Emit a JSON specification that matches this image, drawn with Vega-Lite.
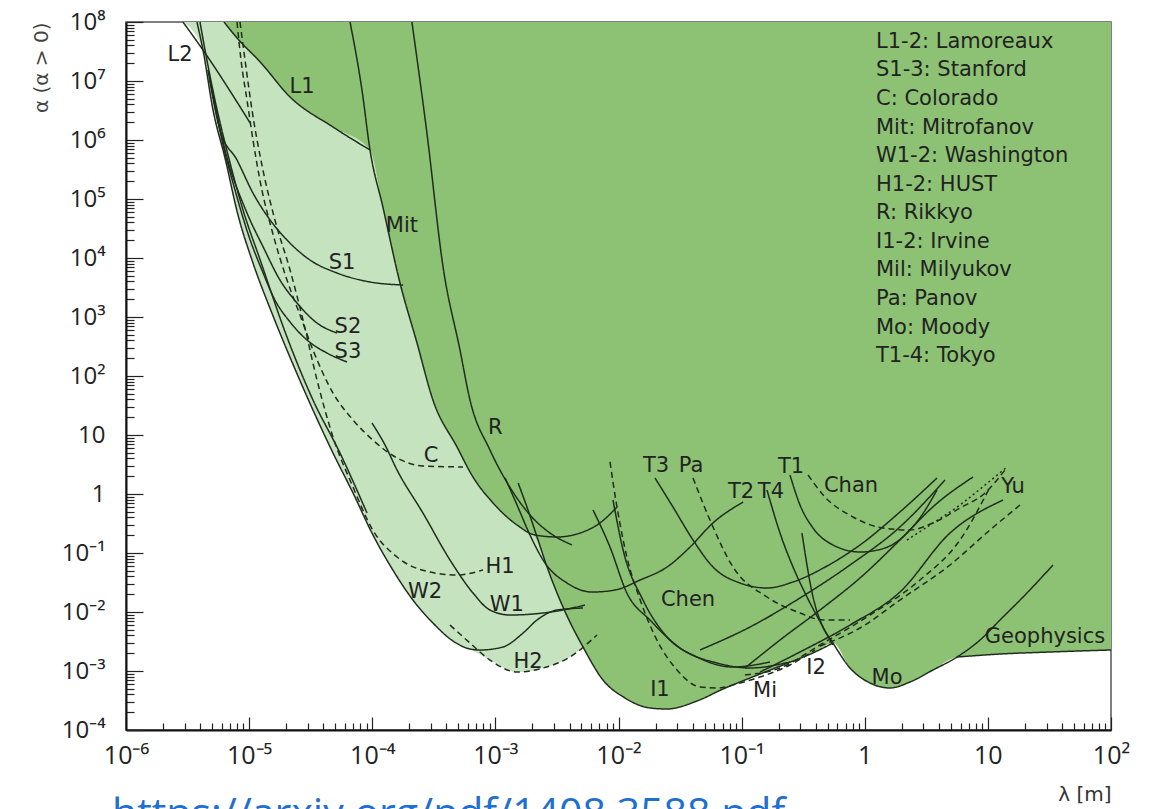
{
  "$schema": "https://vega.github.io/schema/vega-lite/v6.json",
  "width": 985,
  "height": 708,
  "autosize": {"type": "none"},
  "padding": {"left": 126, "top": 22, "right": 41, "bottom": 79},
  "background": "white",
  "config": {"view": {"stroke": "#555", "strokeWidth": 1.5}, "font": "DejaVu Sans"},
  "title": {"text": "https://arxiv.org/pdf/1408.3588.pdf", "orient": "bottom", "anchor": "start", "frame": "group", "fontSize": 41, "font": "Open Sans", "fontWeight": "normal", "color": "#1f6fd0", "offset": -9, "dx": -14},
  "datasets": {
    "light": [
      {"x": 2.90e-6, "y": 1e8}, {"x": 4.22e-6, "y": 3.35e7}, {"x": 5.09e-6, "y": 3.23e6}, {"x": 6.37e-6, "y": 4.95e5}, {"x": 8.12e-6, "y": 5.36e4}, {"x": 1.075e-5, "y": 8230}, {"x": 1.53e-5, "y": 1169}, {"x": 2.23e-5, "y": 172.7}, {"x": 3.30e-5, "y": 26.5}, {"x": 4.80e-5, "y": 4.95}, {"x": 6.98e-5, "y": 1.04}, {"x": 9.95e-5, "y": 0.218}, {"x": 1.47e-4, "y": 0.0515}, {"x": 2.14e-4, "y": 0.01596}, {"x": 3.11e-4, "y": 6.52e-3}, {"x": 4.53e-4, "y": 3.22e-3}, {"x": 6.22e-4, "y": 2.36e-3}, {"x": 9.04e-4, "y": 1.535e-3}, {"x": 1.50e-3, "y": 9.62e-4}, {"x": 2.44e-3, "y": 1.125e-3}, {"x": 4.04e-3, "y": 1.726e-3}, {"x": 5.34e-3, "y": 2.76e-3}
    ],
    "dark": [
      {"x": 6.25e-6, "y": 1e8}, {"x": 7.97e-6, "y": 5.36e7}, {"x": 1.23e-5, "y": 2.10e7}, {"x": 2.15e-5, "y": 5.36e6}, {"x": 4.80e-5, "y": 1.66e6}, {"x": 9.59e-5, "y": 6.77e5}, {"x": 1.22e-4, "y": 7.32e4}, {"x": 1.68e-4, "y": 3770}, {"x": 2.31e-4, "y": 362}, {"x": 3.11e-4, "y": 39.2}, {"x": 4.88e-4, "y": 6.26}, {"x": 6.58e-4, "y": 1.94}, {"x": 9.57e-4, "y": 0.704}, {"x": 1.50e-3, "y": 0.298}, {"x": 2.10e-3, "y": 0.187}, {"x": 2.63e-3, "y": 0.0579}, {"x": 3.54e-3, "y": 0.01215}, {"x": 5.15e-3, "y": 2.55e-3}, {"x": 7.48e-3, "y": 7.04e-4}, {"x": 1.129e-2, "y": 3.49e-4}, {"x": 1.80e-2, "y": 2.36e-4}, {"x": 2.48e-2, "y": 2.27e-4}, {"x": 4.34e-2, "y": 3.10e-4}, {"x": 7.06e-2, "y": 4.95e-4}, {"x": 0.117, "y": 7.61e-4}, {"x": 0.217, "y": 1.264e-3}, {"x": 0.410, "y": 2.18e-3}, {"x": 0.552, "y": 2.98e-3}, {"x": 0.759, "y": 1.125e-3}, {"x": 1.103, "y": 6.26e-4}, {"x": 1.603, "y": 5.15e-4}, {"x": 2.331, "y": 6.51e-4}, {"x": 3.584, "y": 1.04e-3}, {"x": 5.614, "y": 1.726e-3}, {"x": 12.55, "y": 1.94e-3}, {"x": 31.95, "y": 2.10e-3}, {"x": 100, "y": 2.27e-3}
    ],
    "lines": [
      {"s": "L1", "d": "solid", "x": 6.25e-6, "y": 1e8}, {"s": "L1", "d": "solid", "x": 7.97e-6, "y": 5.36e7}, {"s": "L1", "d": "solid", "x": 1.23e-5, "y": 2.10e7}, {"s": "L1", "d": "solid", "x": 2.15e-5, "y": 5.36e6}, {"s": "L1", "d": "solid", "x": 4.80e-5, "y": 1.66e6}, {"s": "L1", "d": "solid", "x": 9.59e-5, "y": 6.77e5},
      {"s": "L2", "d": "solid", "x": 2.90e-6, "y": 1e8}, {"s": "L2", "d": "solid", "x": 4.22e-6, "y": 3.35e7}, {"s": "L2", "d": "solid", "x": 1.02e-5, "y": 1.94e6},
      {"s": "Mit", "d": "solid", "x": 6.60e-5, "y": 1e8}, {"s": "Mit", "d": "solid", "x": 8.25e-5, "y": 7.04e6}, {"s": "Mit", "d": "solid", "x": 9.59e-5, "y": 6.77e5}, {"s": "Mit", "d": "solid", "x": 1.22e-4, "y": 7.32e4}, {"s": "Mit", "d": "solid", "x": 1.68e-4, "y": 3770}, {"s": "Mit", "d": "solid", "x": 2.31e-4, "y": 362}, {"s": "Mit", "d": "solid", "x": 3.11e-4, "y": 39.2}, {"s": "Mit", "d": "solid", "x": 4.88e-4, "y": 6.26}, {"s": "Mit", "d": "solid", "x": 6.58e-4, "y": 1.94}, {"s": "Mit", "d": "solid", "x": 9.57e-4, "y": 0.704}, {"s": "Mit", "d": "solid", "x": 1.50e-3, "y": 0.298}, {"s": "Mit", "d": "solid", "x": 2.10e-3, "y": 0.202}, {"s": "Mit", "d": "solid", "x": 3.17e-3, "y": 0.187}, {"s": "Mit", "d": "solid", "x": 4.87e-3, "y": 0.218}, {"s": "Mit", "d": "solid", "x": 7.07e-3, "y": 0.323}, {"s": "Mit", "d": "solid", "x": 9.72e-3, "y": 0.602},
      {"s": "R", "d": "solid", "x": 2.10e-4, "y": 1e8}, {"s": "R", "d": "solid", "x": 2.78e-4, "y": 1.31e6}, {"s": "R", "d": "solid", "x": 3.76e-4, "y": 7040}, {"s": "R", "d": "solid", "x": 5.16e-4, "y": 276}, {"s": "R", "d": "solid", "x": 6.22e-4, "y": 39.2}, {"s": "R", "d": "solid", "x": 9.04e-4, "y": 5.57}, {"s": "R", "d": "solid", "x": 1.31e-3, "y": 1.31}, {"s": "R", "d": "solid", "x": 1.91e-3, "y": 0.441}, {"s": "R", "d": "solid", "x": 2.78e-3, "y": 0.218}, {"s": "R", "d": "solid", "x": 4.19e-3, "y": 0.137},
      {"s": "T2", "d": "solid", "x": 1.20e-3, "y": 1.87}, {"s": "T2", "d": "solid", "x": 1.50e-3, "y": 0.651}, {"s": "T2", "d": "solid", "x": 1.91e-3, "y": 0.202}, {"s": "T2", "d": "solid", "x": 2.53e-3, "y": 0.0677}, {"s": "T2", "d": "solid", "x": 3.82e-3, "y": 0.031}, {"s": "T2", "d": "solid", "x": 6.09e-3, "y": 0.0218}, {"s": "T2", "d": "solid", "x": 9.37e-3, "y": 0.0236}, {"s": "T2", "d": "solid", "x": 1.50e-2, "y": 0.0349}, {"s": "T2", "d": "solid", "x": 2.48e-2, "y": 0.0579}, {"s": "T2", "d": "solid", "x": 3.81e-2, "y": 0.126}, {"s": "T2", "d": "solid", "x": 5.85e-2, "y": 0.323}, {"s": "T2", "d": "solid", "x": 0.103, "y": 0.732},
      {"s": "I1", "d": "solid", "x": 1.53e-3, "y": 1.54}, {"s": "I1", "d": "solid", "x": 1.84e-3, "y": 0.536}, {"s": "I1", "d": "solid", "x": 2.18e-3, "y": 0.187}, {"s": "I1", "d": "solid", "x": 2.63e-3, "y": 0.0579}, {"s": "I1", "d": "solid", "x": 3.54e-3, "y": 0.01215}, {"s": "I1", "d": "solid", "x": 5.15e-3, "y": 2.55e-3}, {"s": "I1", "d": "solid", "x": 7.48e-3, "y": 7.04e-4}, {"s": "I1", "d": "solid", "x": 1.129e-2, "y": 3.49e-4}, {"s": "I1", "d": "solid", "x": 1.80e-2, "y": 2.36e-4}, {"s": "I1", "d": "solid", "x": 2.48e-2, "y": 2.27e-4}, {"s": "I1", "d": "solid", "x": 4.34e-2, "y": 3.10e-4}, {"s": "I1", "d": "solid", "x": 7.06e-2, "y": 4.95e-4}, {"s": "I1", "d": "solid", "x": 0.117, "y": 7.61e-4}, {"s": "I1", "d": "solid", "x": 0.217, "y": 1.264e-3}, {"s": "I1", "d": "solid", "x": 0.410, "y": 2.18e-3}, {"s": "I1", "d": "solid", "x": 0.552, "y": 2.98e-3},
      {"s": "H1", "d": "dashed", "x": 8.43e-6, "y": 1e8}, {"s": "H1", "d": "dashed", "x": 9.26e-6, "y": 2.27e7}, {"s": "H1", "d": "dashed", "x": 1.055e-5, "y": 3.23e6}, {"s": "H1", "d": "dashed", "x": 1.27e-5, "y": 3.77e5}, {"s": "H1", "d": "dashed", "x": 1.62e-5, "y": 4.41e4}, {"s": "H1", "d": "dashed", "x": 2.15e-5, "y": 6260}, {"s": "H1", "d": "dashed", "x": 2.74e-5, "y": 889}, {"s": "H1", "d": "dashed", "x": 3.56e-5, "y": 85.5}, {"s": "H1", "d": "dashed", "x": 4.80e-5, "y": 9.25}, {"s": "H1", "d": "dashed", "x": 6.98e-5, "y": 1.31}, {"s": "H1", "d": "dashed", "x": 1.01e-4, "y": 0.245}, {"s": "H1", "d": "dashed", "x": 1.59e-4, "y": 0.0855}, {"s": "H1", "d": "dashed", "x": 2.94e-4, "y": 0.0476}, {"s": "H1", "d": "dashed", "x": 4.88e-4, "y": 0.0424}, {"s": "H1", "d": "dashed", "x": 7.93e-4, "y": 0.0515},
      {"s": "C", "d": "dashed", "x": 7.97e-6, "y": 1e8}, {"s": "C", "d": "dashed", "x": 8.59e-6, "y": 2.27e7}, {"s": "C", "d": "dashed", "x": 9.61e-6, "y": 4.76e6}, {"s": "C", "d": "dashed", "x": 1.075e-5, "y": 1e6}, {"s": "C", "d": "dashed", "x": 1.27e-5, "y": 1.42e5}, {"s": "C", "d": "dashed", "x": 1.53e-5, "y": 2.98e4}, {"s": "C", "d": "dashed", "x": 2.03e-5, "y": 4237}, {"s": "C", "d": "dashed", "x": 2.59e-5, "y": 1081}, {"s": "C", "d": "dashed", "x": 3.30e-5, "y": 276}, {"s": "C", "d": "dashed", "x": 4.80e-5, "y": 51.5}, {"s": "C", "d": "dashed", "x": 6.98e-5, "y": 17.96}, {"s": "C", "d": "dashed", "x": 1.01e-4, "y": 8.23}, {"s": "C", "d": "dashed", "x": 1.59e-4, "y": 4.08}, {"s": "C", "d": "dashed", "x": 2.58e-4, "y": 2.98}, {"s": "C", "d": "dashed", "x": 5.46e-4, "y": 2.87},
      {"s": "W2", "d": "solid", "x": 3.77e-6, "y": 1e8}, {"s": "W2", "d": "solid", "x": 4.22e-6, "y": 3.35e7}, {"s": "W2", "d": "solid", "x": 5.09e-6, "y": 3.23e6}, {"s": "W2", "d": "solid", "x": 6.37e-6, "y": 4.95e5}, {"s": "W2", "d": "solid", "x": 8.12e-6, "y": 5.36e4}, {"s": "W2", "d": "solid", "x": 1.075e-5, "y": 8230}, {"s": "W2", "d": "solid", "x": 1.53e-5, "y": 1169}, {"s": "W2", "d": "solid", "x": 2.23e-5, "y": 172.7}, {"s": "W2", "d": "solid", "x": 3.30e-5, "y": 26.5}, {"s": "W2", "d": "solid", "x": 4.80e-5, "y": 4.95}, {"s": "W2", "d": "solid", "x": 6.98e-5, "y": 1.04}, {"s": "W2", "d": "solid", "x": 9.95e-5, "y": 0.218}, {"s": "W2", "d": "solid", "x": 1.47e-4, "y": 0.0515}, {"s": "W2", "d": "solid", "x": 2.14e-4, "y": 0.01596}, {"s": "W2", "d": "solid", "x": 3.11e-4, "y": 6.52e-3}, {"s": "W2", "d": "solid", "x": 4.53e-4, "y": 3.22e-3}, {"s": "W2", "d": "solid", "x": 6.22e-4, "y": 2.36e-3}, {"s": "W2", "d": "solid", "x": 7.50e-4, "y": 2.27e-3}, {"s": "W2", "d": "solid", "x": 1.15e-3, "y": 2.55e-3}, {"s": "W2", "d": "solid", "x": 1.68e-3, "y": 4.41e-3}, {"s": "W2", "d": "solid", "x": 2.18e-3, "y": 7.32e-3}, {"s": "W2", "d": "solid", "x": 3.17e-3, "y": 0.0108}, {"s": "W2", "d": "solid", "x": 5.15e-3, "y": 0.01169},
      {"s": "B2", "d": "solid", "x": 3.99e-6, "y": 1e8}, {"s": "B2", "d": "solid", "x": 4.46e-6, "y": 2.76e7}, {"s": "B2", "d": "solid", "x": 5.28e-6, "y": 4.76e6}, {"s": "B2", "d": "solid", "x": 6.74e-6, "y": 5.57e5}, {"s": "B2", "d": "solid", "x": 8.92e-6, "y": 6.51e4}, {"s": "B2", "d": "solid", "x": 1.23e-5, "y": 9250}, {"s": "B2", "d": "solid", "x": 2.03e-5, "y": 458}, {"s": "B2", "d": "solid", "x": 3.30e-5, "y": 39.2}, {"s": "B2", "d": "solid", "x": 5.47e-5, "y": 4.95}, {"s": "B2", "d": "solid", "x": 9.07e-5, "y": 0.476},
      {"s": "S1", "d": "solid", "x": 4.63e-6, "y": 1.54e7}, {"s": "S1", "d": "solid", "x": 5.80e-6, "y": 1.48e6}, {"s": "S1", "d": "solid", "x": 7.97e-6, "y": 4.58e5}, {"s": "S1", "d": "solid", "x": 1.075e-5, "y": 1.26e5}, {"s": "S1", "d": "solid", "x": 1.48e-5, "y": 4.41e4}, {"s": "S1", "d": "solid", "x": 2.03e-5, "y": 2.02e4}, {"s": "S1", "d": "solid", "x": 3.12e-5, "y": 9250}, {"s": "S1", "d": "solid", "x": 5.17e-5, "y": 5570}, {"s": "S1", "d": "solid", "x": 9.59e-5, "y": 3920}, {"s": "S1", "d": "solid", "x": 1.78e-4, "y": 3486},
      {"s": "S2", "d": "solid", "x": 4.81e-6, "y": 1.04e7}, {"s": "S2", "d": "solid", "x": 6.37e-6, "y": 6.77e5}, {"s": "S2", "d": "solid", "x": 9.61e-6, "y": 5.79e4}, {"s": "S2", "d": "solid", "x": 1.30e-5, "y": 1.54e4}, {"s": "S2", "d": "solid", "x": 1.78e-5, "y": 4237}, {"s": "S2", "d": "solid", "x": 2.45e-5, "y": 1727}, {"s": "S2", "d": "solid", "x": 3.56e-5, "y": 791}, {"s": "S2", "d": "solid", "x": 5.17e-5, "y": 535},
      {"s": "S3", "d": "solid", "x": 4.99e-6, "y": 7.04e6}, {"s": "S3", "d": "solid", "x": 6.02e-6, "y": 1e6}, {"s": "S3", "d": "solid", "x": 7.68e-6, "y": 1.42e5}, {"s": "S3", "d": "solid", "x": 1.02e-5, "y": 2.02e4}, {"s": "S3", "d": "solid", "x": 1.27e-5, "y": 6260}, {"s": "S3", "d": "solid", "x": 1.62e-5, "y": 1942}, {"s": "S3", "d": "solid", "x": 2.15e-5, "y": 823}, {"s": "S3", "d": "solid", "x": 2.95e-5, "y": 408}, {"s": "S3", "d": "solid", "x": 4.29e-5, "y": 245}, {"s": "S3", "d": "solid", "x": 6.24e-5, "y": 172.7},
      {"s": "W1", "d": "solid", "x": 9.95e-5, "y": 15.97}, {"s": "W1", "d": "solid", "x": 1.27e-4, "y": 6.77}, {"s": "W1", "d": "solid", "x": 1.59e-4, "y": 2.55}, {"s": "W1", "d": "solid", "x": 2.58e-4, "y": 0.476}, {"s": "W1", "d": "solid", "x": 4.28e-4, "y": 0.0761}, {"s": "W1", "d": "solid", "x": 6.58e-4, "y": 0.021}, {"s": "W1", "d": "solid", "x": 9.04e-4, "y": 0.0108}, {"s": "W1", "d": "solid", "x": 1.31e-3, "y": 8.89e-3}, {"s": "W1", "d": "solid", "x": 2.44e-3, "y": 9.62e-3}, {"s": "W1", "d": "solid", "x": 3.54e-3, "y": 0.0108}, {"s": "W1", "d": "solid", "x": 5.34e-3, "y": 0.01314},
      {"s": "H2", "d": "dashed", "x": 4.28e-4, "y": 6.02e-3}, {"s": "H2", "d": "dashed", "x": 6.22e-4, "y": 2.98e-3}, {"s": "H2", "d": "dashed", "x": 9.04e-4, "y": 1.535e-3}, {"s": "H2", "d": "dashed", "x": 1.50e-3, "y": 9.62e-4}, {"s": "H2", "d": "dashed", "x": 2.44e-3, "y": 1.125e-3}, {"s": "H2", "d": "dashed", "x": 4.04e-3, "y": 1.726e-3}, {"s": "H2", "d": "dashed", "x": 6.69e-3, "y": 4.08e-3},
      {"s": "Mi", "d": "dashed", "x": 8.53e-3, "y": 3.49}, {"s": "Mi", "d": "dashed", "x": 9.72e-3, "y": 0.602}, {"s": "Mi", "d": "dashed", "x": 1.17e-2, "y": 0.0855}, {"s": "Mi", "d": "dashed", "x": 1.50e-2, "y": 0.01596}, {"s": "Mi", "d": "dashed", "x": 2.05e-2, "y": 3.35e-3}, {"s": "Mi", "d": "dashed", "x": 2.99e-2, "y": 1.04e-3}, {"s": "Mi", "d": "dashed", "x": 4.59e-2, "y": 5.36e-4}, {"s": "Mi", "d": "dashed", "x": 6.31e-2, "y": 5.15e-4}, {"s": "Mi", "d": "dashed", "x": 9.70e-2, "y": 6.26e-4}, {"s": "Mi", "d": "dashed", "x": 0.1333, "y": 7.61e-4}, {"s": "Mi", "d": "dashed", "x": 0.247, "y": 1.264e-3}, {"s": "Mi", "d": "dashed", "x": 0.394, "y": 2.27e-3},
      {"s": "Chen", "d": "solid", "x": 6.21e-3, "y": 0.536}, {"s": "Chen", "d": "solid", "x": 8.53e-3, "y": 0.126}, {"s": "Chen", "d": "solid", "x": 1.17e-2, "y": 0.021}, {"s": "Chen", "d": "solid", "x": 1.80e-2, "y": 7.32e-3}, {"s": "Chen", "d": "solid", "x": 3.34e-2, "y": 2.27e-3}, {"s": "Chen", "d": "solid", "x": 6.31e-2, "y": 1.367e-3}, {"s": "Chen", "d": "solid", "x": 0.117, "y": 1.125e-3}, {"s": "Chen", "d": "solid", "x": 0.247, "y": 1.42e-3},
      {"s": "C1", "d": "solid", "x": 9.02e-3, "y": 0.791}, {"s": "C1", "d": "solid", "x": 1.09e-2, "y": 0.1124}, {"s": "C1", "d": "solid", "x": 1.58e-2, "y": 0.01596}, {"s": "C1", "d": "solid", "x": 2.48e-2, "y": 3.77e-3}, {"s": "C1", "d": "solid", "x": 4.34e-2, "y": 1.726e-3}, {"s": "C1", "d": "solid", "x": 8.51e-2, "y": 1.169e-3}, {"s": "C1", "d": "solid", "x": 0.170, "y": 1.42e-3},
      {"s": "T3", "d": "solid", "x": 1.98e-2, "y": 1.867}, {"s": "T3", "d": "solid", "x": 2.77e-2, "y": 0.602}, {"s": "T3", "d": "solid", "x": 4.03e-2, "y": 0.166}, {"s": "T3", "d": "solid", "x": 5.85e-2, "y": 0.0579}, {"s": "T3", "d": "solid", "x": 9.70e-2, "y": 0.031}, {"s": "T3", "d": "solid", "x": 0.1607, "y": 0.0255}, {"s": "T3", "d": "solid", "x": 0.2614, "y": 0.0323}, {"s": "T3", "d": "solid", "x": 0.4937, "y": 0.0602}, {"s": "T3", "d": "solid", "x": 0.915, "y": 0.1367}, {"s": "T3", "d": "solid", "x": 1.930, "y": 0.4954}, {"s": "T3", "d": "solid", "x": 3.862, "y": 1.867},
      {"s": "Pa", "d": "dashed", "x": 4.03e-2, "y": 1.867}, {"s": "Pa", "d": "dashed", "x": 5.53e-2, "y": 0.3625}, {"s": "Pa", "d": "dashed", "x": 8.51e-2, "y": 0.0579}, {"s": "Pa", "d": "dashed", "x": 0.1607, "y": 0.01796}, {"s": "Pa", "d": "dashed", "x": 0.2979, "y": 9.62e-3}, {"s": "Pa", "d": "dashed", "x": 0.458, "y": 7.32e-3}, {"s": "Pa", "d": "dashed", "x": 0.759, "y": 7.32e-3},
      {"s": "T4", "d": "solid", "x": 0.1607, "y": 1.169}, {"s": "T4", "d": "solid", "x": 0.205, "y": 0.218}, {"s": "T4", "d": "solid", "x": 0.2614, "y": 0.0579}, {"s": "T4", "d": "solid", "x": 0.3396, "y": 0.01796}, {"s": "T4", "d": "solid", "x": 0.458, "y": 5.57e-3}, {"s": "T4", "d": "solid", "x": 0.552, "y": 2.76e-3},
      {"s": "T1", "d": "solid", "x": 0.247, "y": 2.10}, {"s": "T1", "d": "solid", "x": 0.2979, "y": 0.651}, {"s": "T1", "d": "solid", "x": 0.380, "y": 0.2654}, {"s": "T1", "d": "solid", "x": 0.552, "y": 0.1367}, {"s": "T1", "d": "solid", "x": 0.915, "y": 0.104}, {"s": "T1", "d": "solid", "x": 1.46, "y": 0.1216}, {"s": "T1", "d": "solid", "x": 2.122, "y": 0.2019}, {"s": "T1", "d": "solid", "x": 2.916, "y": 0.4406}, {"s": "T1", "d": "solid", "x": 3.862, "y": 1.169},
      {"s": "Chan", "d": "dashed", "x": 0.346, "y": 2.10}, {"s": "Chan", "d": "dashed", "x": 0.4755, "y": 0.889}, {"s": "Chan", "d": "dashed", "x": 0.8027, "y": 0.4076}, {"s": "Chan", "d": "dashed", "x": 1.406, "y": 0.2654}, {"s": "Chan", "d": "dashed", "x": 2.331, "y": 0.2454}, {"s": "Chan", "d": "dashed", "x": 3.72, "y": 0.3353}, {"s": "Chan", "d": "dashed", "x": 5.935, "y": 0.579}, {"s": "Chan", "d": "dashed", "x": 9.48, "y": 1.04}, {"s": "Chan", "d": "dashed", "x": 13.77, "y": 2.55},
      {"s": "Mo", "d": "solid", "x": 0.309, "y": 0.218}, {"s": "Mo", "d": "solid", "x": 0.380, "y": 0.01796}, {"s": "Mo", "d": "solid", "x": 0.4496, "y": 6.02e-3}, {"s": "Mo", "d": "solid", "x": 0.552, "y": 2.98e-3}, {"s": "Mo", "d": "solid", "x": 0.759, "y": 1.125e-3}, {"s": "Mo", "d": "solid", "x": 1.103, "y": 6.26e-4}, {"s": "Mo", "d": "solid", "x": 1.603, "y": 5.15e-4}, {"s": "Mo", "d": "solid", "x": 2.331, "y": 6.51e-4}, {"s": "Mo", "d": "solid", "x": 3.584, "y": 1.04e-3}, {"s": "Mo", "d": "solid", "x": 5.614, "y": 1.726e-3}, {"s": "Mo", "d": "solid", "x": 8.63, "y": 3.35e-3}, {"s": "Mo", "d": "solid", "x": 12.55, "y": 7.32e-3}, {"s": "Mo", "d": "solid", "x": 20.78, "y": 0.021}, {"s": "Mo", "d": "solid", "x": 33.8, "y": 0.0626},
      {"s": "Geo", "d": "solid", "x": 5.614, "y": 1.726e-3}, {"s": "Geo", "d": "solid", "x": 12.55, "y": 1.94e-3}, {"s": "Geo", "d": "solid", "x": 31.95, "y": 2.10e-3}, {"s": "Geo", "d": "solid", "x": 100, "y": 2.27e-3},
      {"s": "R1", "d": "solid", "x": 0.1065, "y": 1.125e-3}, {"s": "R1", "d": "solid", "x": 0.205, "y": 3.35e-3}, {"s": "R1", "d": "solid", "x": 0.433, "y": 0.0108}, {"s": "R1", "d": "solid", "x": 0.915, "y": 0.0377}, {"s": "R1", "d": "solid", "x": 1.930, "y": 0.166}, {"s": "R1", "d": "solid", "x": 3.72, "y": 0.651}, {"s": "R1", "d": "solid", "x": 7.57, "y": 1.942},
      {"s": "R2", "d": "solid", "x": 0.141, "y": 9.62e-4}, {"s": "R2", "d": "solid", "x": 0.2979, "y": 2.10e-3}, {"s": "R2", "d": "solid", "x": 0.759, "y": 6.02e-3}, {"s": "R2", "d": "solid", "x": 1.930, "y": 0.0218}, {"s": "R2", "d": "solid", "x": 4.924, "y": 0.218}, {"s": "R2", "d": "solid", "x": 13.27, "y": 0.791},
      {"s": "R3", "d": "dashed", "x": 0.1065, "y": 8.55e-4}, {"s": "R3", "d": "dashed", "x": 0.205, "y": 1.125e-3}, {"s": "R3", "d": "dashed", "x": 0.433, "y": 2.76e-3}, {"s": "R3", "d": "dashed", "x": 1.103, "y": 8.89e-3}, {"s": "R3", "d": "dashed", "x": 2.81, "y": 0.0349}, {"s": "R3", "d": "dashed", "x": 5.935, "y": 0.166}, {"s": "R3", "d": "dashed", "x": 10.4, "y": 1.314},
      {"s": "R4", "d": "dashed", "x": 0.433, "y": 2.65e-3}, {"s": "R4", "d": "dashed", "x": 0.915, "y": 5.36e-3}, {"s": "R4", "d": "dashed", "x": 1.930, "y": 0.01596}, {"s": "R4", "d": "dashed", "x": 4.924, "y": 0.0626}, {"s": "R4", "d": "dashed", "x": 10.4, "y": 0.2454}, {"s": "R4", "d": "dashed", "x": 18.24, "y": 0.651},
      {"s": "R5", "d": "dotted", "x": 2.203, "y": 0.166}, {"s": "R5", "d": "dotted", "x": 3.388, "y": 0.298}, {"s": "R5", "d": "dotted", "x": 5.935, "y": 0.651}, {"s": "R5", "d": "dotted", "x": 9.48, "y": 1.42}, {"s": "R5", "d": "dotted", "x": 14.3, "y": 2.87},
      {"s": "R7", "d": "solid", "x": 4.59e-2, "y": 2.27e-3}, {"s": "R7", "d": "solid", "x": 0.117, "y": 5.57e-3}, {"s": "R7", "d": "solid", "x": 0.2979, "y": 0.01727}, {"s": "R7", "d": "solid", "x": 0.759, "y": 0.0626}, {"s": "R7", "d": "solid", "x": 1.930, "y": 0.276}, {"s": "R7", "d": "solid", "x": 4.485, "y": 1.727}
    ],
    "labels": [
      {"t": "L2", "x": 2.75e-6, "y": 2.76e7}, {"t": "L1", "x": 2.69e-5, "y": 7.91e6}, {"t": "Mit", "x": 1.74e-4, "y": 3.49e4}, {"t": "S1", "x": 5.68e-5, "y": 8230}, {"t": "S2", "x": 6.35e-5, "y": 677}, {"t": "S3", "x": 6.35e-5, "y": 255}, {"t": "C", "x": 3.00e-4, "y": 4.41}, {"t": "R", "x": 1.0e-3, "y": 13.14}, {"t": "H1", "x": 1.09e-3, "y": 0.0579}, {"t": "W2", "x": 2.68e-4, "y": 0.0218}, {"t": "W1", "x": 1.24e-3, "y": 0.01314}, {"t": "H2", "x": 1.84e-3, "y": 1.42e-3}, {"t": "Chen", "x": 3.67e-2, "y": 0.01596}, {"t": "T3", "x": 2.02e-2, "y": 2.98}, {"t": "Pa", "x": 3.88e-2, "y": 2.98}, {"t": "T2", "x": 9.88e-2, "y": 1.081}, {"t": "T4", "x": 0.173, "y": 1.081}, {"t": "T1", "x": 0.252, "y": 2.87}, {"t": "Chan", "x": 0.773, "y": 1.366}, {"t": "Yu", "x": 16.0, "y": 1.314}, {"t": "I1", "x": 2.17e-2, "y": 4.76e-4}, {"t": "Mi", "x": 0.1548, "y": 4.58e-4}, {"t": "I2", "x": 0.402, "y": 1.125e-3}, {"t": "Mo", "x": 1.516, "y": 7.61e-4}, {"t": "Geophysics", "x": 29.1, "y": 3.77e-3}
    ],
    "legend": [
      {"t": "L1-2: Lamoreaux", "x": 1.234, "y": 4.58e7}, {"t": "S1-3: Stanford", "x": 1.234, "y": 1.536e7}, {"t": "C: Colorado", "x": 1.234, "y": 4.95e6}, {"t": "Mit: Mitrofanov", "x": 1.234, "y": 1.597e6}, {"t": "W1-2: Washington", "x": 1.234, "y": 5.36e5}, {"t": "H1-2: HUST", "x": 1.234, "y": 1.727e5}, {"t": "R: Rikkyo", "x": 1.234, "y": 5.79e4}, {"t": "I1-2: Irvine", "x": 1.234, "y": 1.867e4}, {"t": "Mil: Milyukov", "x": 1.234, "y": 6260}, {"t": "Pa: Panov", "x": 1.234, "y": 2020}, {"t": "Mo: Moody", "x": 1.234, "y": 651}, {"t": "T1-4: Tokyo", "x": 1.234, "y": 218.3}
    ]
  },
  "encoding": {
    "x": {
      "field": "x", "type": "quantitative",
      "scale": {"type": "log", "domain": [1e-6, 100], "nice": false},
      "axis": {
        "title": "λ [m]", "titleAnchor": "end", "titleFontSize": 20, "titleFontWeight": "normal", "titleColor": "#333", "titlePadding": 10, "titleFont": "DejaVu Sans",
        "values": [1e-6,2e-6,3e-6,4e-6,5e-6,6e-6,7e-6,8e-6,9e-6,1e-5,2e-5,3e-5,4e-5,5e-5,6e-5,7e-5,8e-5,9e-5,1e-4,2e-4,3e-4,4e-4,5e-4,6e-4,7e-4,8e-4,9e-4,0.001,0.002,0.003,0.004,0.005,0.006,0.007,0.008,0.009,0.01,0.02,0.03,0.04,0.05,0.06,0.07,0.08,0.09,0.1,0.2,0.3,0.4,0.5,0.6,0.7,0.8,0.9,1,2,3,4,5,6,7,8,9,10,20,30,40,50,60,70,80,90,100],
        "labelExpr": "abs(log(datum.value)/LN10 - round(log(datum.value)/LN10)) > 0.01 ? '' : datum.value == 1 ? '1' : datum.value == 10 ? '10' : '10' + (datum.value < 1 ? '⁻' : '') + ['⁰','¹','²','³','⁴','⁵','⁶','⁷','⁸','⁹'][abs(round(log(datum.value)/LN10))]",
        "labelFont": "Open Sans", "labelFontSize": 25, "labelColor": "#222", "labelPadding": 26, "labelFlush": false, "labelOverlap": false,
        "tickSize": {"condition": {"test": "abs(log(datum.value)/LN10 - round(log(datum.value)/LN10)) < 0.01", "value": -13}, "value": -7},
        "tickColor": "#222", "tickWidth": 1.2, "domainColor": "#111", "domainWidth": 2, "grid": false
      }
    },
    "y": {
      "field": "y", "type": "quantitative",
      "scale": {"type": "log", "domain": [1e-4, 1e8], "nice": false},
      "axis": {
        "title": "α (α > 0)", "titleAnchor": "end", "titleFontSize": 20, "titleFontWeight": "normal", "titleColor": "#444", "titlePadding": 10, "titleFont": "DejaVu Sans",
        "values": [1e-4,2e-4,3e-4,4e-4,5e-4,6e-4,7e-4,8e-4,9e-4,0.001,0.002,0.003,0.004,0.005,0.006,0.007,0.008,0.009,0.01,0.02,0.03,0.04,0.05,0.06,0.07,0.08,0.09,0.1,0.2,0.3,0.4,0.5,0.6,0.7,0.8,0.9,1,2,3,4,5,6,7,8,9,10,20,30,40,50,60,70,80,90,100,200,300,400,500,600,700,800,900,1000,2000,3000,4000,5000,6000,7000,8000,9000,1e4,2e4,3e4,4e4,5e4,6e4,7e4,8e4,9e4,1e5,2e5,3e5,4e5,5e5,6e5,7e5,8e5,9e5,1e6,2e6,3e6,4e6,5e6,6e6,7e6,8e6,9e6,1e7,2e7,3e7,4e7,5e7,6e7,7e7,8e7,9e7,1e8],
        "labelExpr": "abs(log(datum.value)/LN10 - round(log(datum.value)/LN10)) > 0.01 ? '' : datum.value == 1 ? '1' : datum.value == 10 ? '10' : '10' + (datum.value < 1 ? '⁻' : '') + ['⁰','¹','²','³','⁴','⁵','⁶','⁷','⁸','⁹'][abs(round(log(datum.value)/LN10))]",
        "labelFont": "Open Sans", "labelFontSize": 24, "labelColor": "#222", "labelPadding": 38, "labelFlush": false, "labelOverlap": false,
        "tickSize": {"condition": {"test": "abs(log(datum.value)/LN10 - round(log(datum.value)/LN10)) < 0.01", "value": -17}, "value": -8},
        "tickColor": "#222", "tickWidth": 1.2, "domainColor": "#111", "domainWidth": 2, "grid": false
      }
    }
  },
  "layer": [
    {"data": {"name": "light"}, "mark": {"type": "area", "color": "#c5e3be", "interpolate": "monotone", "clip": true}, "encoding": {"y2": {"datum": 1e8}}},
    {"data": {"name": "dark"}, "mark": {"type": "area", "color": "#8dc274", "interpolate": "monotone", "clip": true}, "encoding": {"y2": {"datum": 1e8}}},
    {"data": {"name": "lines"}, "mark": {"type": "line", "color": "#1f2d1d", "strokeWidth": 1.5, "interpolate": "monotone", "clip": true},
     "encoding": {"detail": {"field": "s"}, "strokeDash": {"field": "d", "type": "nominal", "scale": {"domain": ["solid", "dashed", "dotted"], "range": [[1, 0], [6, 4], [2, 3]]}, "legend": null}}},
    {"data": {"values": [{}]}, "mark": {"type": "rule", "color": "#e3141c", "strokeDash": [2, 3], "strokeWidth": 2}, "encoding": {"x": {"datum": 0.0001}, "y": {"datum": 1e8}, "y2": {"datum": 0.0001}}},
    {"data": {"name": "labels"}, "mark": {"type": "text", "fontSize": 21, "color": "#222", "font": "DejaVu Sans", "align": "center", "baseline": "middle"}, "encoding": {"text": {"field": "t"}}},
    {"data": {"name": "legend"}, "mark": {"type": "text", "fontSize": 21, "color": "#222", "font": "DejaVu Sans", "align": "left", "baseline": "middle"}, "encoding": {"text": {"field": "t"}}}
  ]
}
